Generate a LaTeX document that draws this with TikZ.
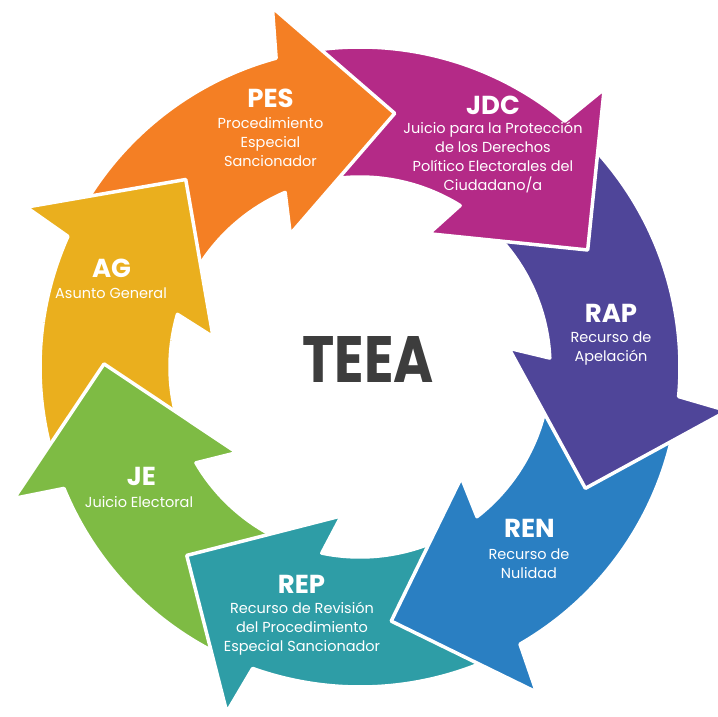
\documentclass[tikz,border=0pt]{standalone}
\usepackage{fontspec}
\setmainfont{Poppins}
\usepackage{graphicx}
\definecolor{cPES}{HTML}{F47F24}
\definecolor{cJDC}{HTML}{B42A87}
\definecolor{cRAP}{HTML}{4F4599}
\definecolor{cREN}{HTML}{2A7FC2}
\definecolor{cREP}{HTML}{2E9DA6}
\definecolor{cJE}{HTML}{7EBB44}
\definecolor{cAG}{HTML}{EAAF1E}
\definecolor{cTEEA}{HTML}{3D3D3D}
\tikzset{
  seg/.style={fill=#1, draw=white, line width=3.5pt, line join=round},
  headlbl/.style={text=white, font=\fontsize{26}{28}\selectfont\bfseries, anchor=base, inner sep=0pt},
  desclbl/.style={text=white, font=\fontsize{14.5}{19}\selectfont, align=center, anchor=base, inner sep=0pt},
}
% #1 tip angle, #2 tip angle of previous arrow, #3 colour
\newcommand{\cyclearrow}[3]{%
  \path[seg=#3]
   ({#2+17}:320) arc[start angle={#2+17}, end angle={#1+23}, radius=320]
   -- ({#1+21.5}:370) -- ({#1}:256) -- ({#1+35.5}:150) -- ({#1+31}:190)
   arc[start angle={#1+31}, end angle={#2+17}, radius=190]
   -- ({#2+3}:256) -- cycle;}
\begin{document}
\begin{tikzpicture}[x=1pt,y=1pt]
\useasboundingbox (0,0) rectangle (718,716);
\fill[white] (0,0) rectangle (718,716);
\begin{scope}[shift={(360,349)}]
  \cyclearrow{-227.1}{-180.7}{cAG}
  \cyclearrow{-180.7}{-132.6}{cJE}
  \cyclearrow{-132.6}{-83.0}{cREP}
  \cyclearrow{-83.0}{-28.3}{cREN}
  \cyclearrow{-28.3}{27.2}{cRAP}
  \cyclearrow{27.2}{82.2}{cJDC}
  \cyclearrow{82.2}{132.9}{cPES}
  \begin{scope}
    \clip (0,0) -- (125:430) arc[start angle=125, end angle=172, radius=430] -- cycle;
    \cyclearrow{-227.1}{-180.7}{cAG}
  \end{scope}
\end{scope}

\node[font=\fontsize{58}{60}\selectfont\bfseries, text=cTEEA, anchor=base, inner sep=0pt] (teea) at (368,333) {\scalebox{0.94}[1.13]{TEEA}};

\node[headlbl] (hPES) at (270.5,608) {PES};
\node[desclbl] (dPES) at (270.5,549) {Procedimiento\\Especial\\Sancionador};

\node[headlbl] (hJDC) at (493,601) {JDC};
\node[desclbl] (dJDC) at (493,525) {Juicio para la Protección\\de los Derechos\\Político Electorales del\\Ciudadano/a};

\node[headlbl] (hRAP) at (611,393) {RAP};
\node[desclbl] (dRAP) at (611,354) {Recurso de\\Apelación};

\node[headlbl] (hREN) at (529.5,179) {REN};
\node[desclbl] (dREN) at (529,138) {Recurso de\\Nulidad};

\node[headlbl] (hREP) at (301.5,123) {REP};
\node[desclbl] (dREP) at (302,65) {Recurso de Revisión\\del Procedimiento\\Especial Sancionador};

\node[headlbl] (hAG) at (111.5,438) {AG};
\node[desclbl] (dAG) at (111,417) {Asunto General};

\node[headlbl] (hJE) at (141.5,231) {JE};
\node[desclbl] (dJE) at (139,209) {Juicio Electoral};
\end{tikzpicture}
\end{document}
